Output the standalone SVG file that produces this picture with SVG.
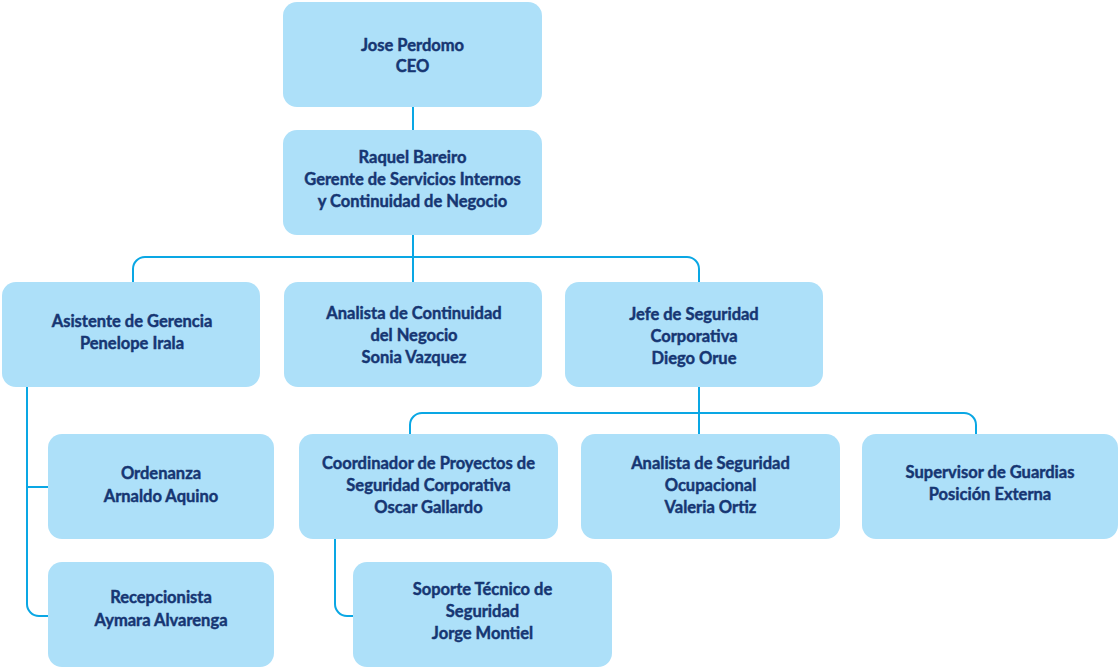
<svg xmlns="http://www.w3.org/2000/svg" width="1119" height="669" viewBox="0 0 1119 669">
<style>
.box{fill:#ade0f9;}
.t{font-family:Lato,"Open Sans",sans-serif;font-weight:700;font-size:16.5px;fill:#163673;stroke:#163673;stroke-width:0.45;text-anchor:middle;}
.c{fill:none;stroke:#0aa7e4;stroke-width:2;}
</style>
<rect width="1119" height="669" fill="#ffffff"/>
<g id="connectors">
<path class="c" d="M413 107V130"/>
<path class="c" d="M413 235V282"/>
<path class="c" d="M133 282V269A12 12 0 0 1 145 257H687A12 12 0 0 1 699 269V282"/>
<path class="c" d="M699 387V434"/>
<path class="c" d="M410 434V425A12 12 0 0 1 422 413H964A12 12 0 0 1 976 425V434"/>
<path class="c" d="M27 387V604A12 12 0 0 0 39 616H48"/>
<path class="c" d="M27 487H48"/>
<path class="c" d="M335 539V604A12 12 0 0 0 347 616H353"/>
</g>
<g id="ceo"><rect class="box" x="283" y="2" width="259" height="105" rx="14"/>
<text class="t" x="412.5" y="51">Jose Perdomo</text><text class="t" x="412.5" y="72">CEO</text></g>
<g id="gerente"><rect class="box" x="283" y="130" width="259" height="105" rx="14"/>
<text class="t" x="412.5" y="163">Raquel Bareiro</text><text class="t" x="412.5" y="185">Gerente de Servicios Internos</text><text class="t" x="412.5" y="207">y Continuidad de Negocio</text></g>
<g id="asistente"><rect class="box" x="2" y="282" width="258" height="105" rx="14"/>
<text class="t" x="132" y="327">Asistente de Gerencia</text><text class="t" x="132" y="349">Penelope Irala</text></g>
<g id="analista-continuidad"><rect class="box" x="284" y="282" width="258" height="105" rx="14"/>
<text class="t" x="414" y="319">Analista de Continuidad</text><text class="t" x="414" y="341">del Negocio</text><text class="t" x="414" y="363">Sonia Vazquez</text></g>
<g id="jefe"><rect class="box" x="565" y="282" width="258" height="105" rx="14"/>
<text class="t" x="694" y="320">Jefe de Seguridad</text><text class="t" x="694" y="342">Corporativa</text><text class="t" x="694" y="364">Diego Orue</text></g>
<g id="ordenanza"><rect class="box" x="48" y="434" width="226" height="105" rx="14"/>
<text class="t" x="161" y="479">Ordenanza</text><text class="t" x="161" y="502">Arnaldo Aquino</text></g>
<g id="recepcionista"><rect class="box" x="48" y="562" width="226" height="105" rx="14"/>
<text class="t" x="161" y="603">Recepcionista</text><text class="t" x="161" y="626">Aymara Alvarenga</text></g>
<g id="coordinador"><rect class="box" x="299" y="434" width="259" height="105" rx="14"/>
<text class="t" x="428.5" y="469">Coordinador de Proyectos de</text><text class="t" x="428.5" y="491">Seguridad Corporativa</text><text class="t" x="428.5" y="513">Oscar Gallardo</text></g>
<g id="analista-seguridad"><rect class="box" x="581" y="434" width="259" height="105" rx="14"/>
<text class="t" x="710.5" y="469">Analista de Seguridad</text><text class="t" x="710.5" y="491">Ocupacional</text><text class="t" x="710.5" y="513">Valeria Ortiz</text></g>
<g id="supervisor"><rect class="box" x="862" y="434" width="256" height="105" rx="14"/>
<text class="t" x="990" y="478">Supervisor de Guardias</text><text class="t" x="990" y="500">Posición Externa</text></g>
<g id="soporte"><rect class="box" x="353" y="562" width="259" height="105" rx="14"/>
<text class="t" x="482.5" y="595">Soporte Técnico de</text><text class="t" x="482.5" y="617">Seguridad</text><text class="t" x="482.5" y="639">Jorge Montiel</text></g>
</svg>
